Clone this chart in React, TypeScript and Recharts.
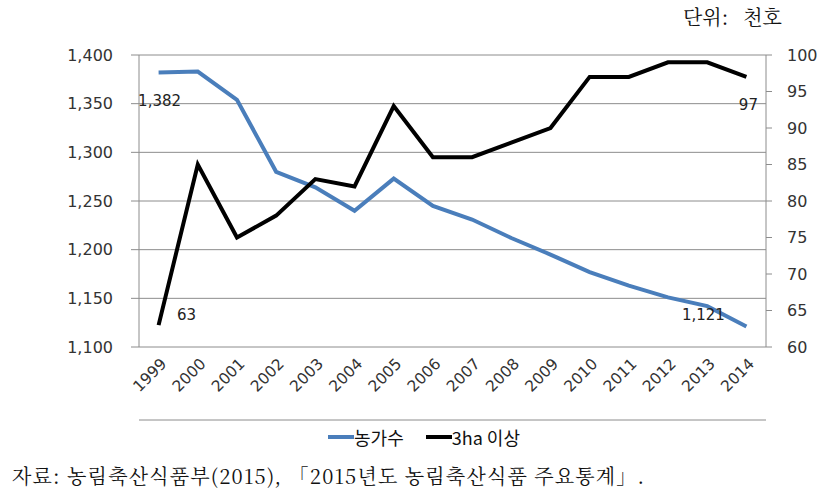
import React from "react";
import {
    LineChart,
    Line,
    XAxis,
    YAxis,
    CartesianGrid,
    Legend,
    LabelList,
} from "recharts";

const years = [
    "1999", "2000", "2001", "2002", "2003", "2004", "2005", "2006",
    "2007", "2008", "2009", "2010", "2011", "2012", "2013", "2014",
];
const farmHouseholds = [
    1382, 1383, 1354, 1280, 1264, 1240, 1273, 1245,
    1231, 1212, 1195, 1177, 1163, 1151, 1142, 1121,
];
const over3ha = [63, 85, 75, 78, 83, 82, 93, 86, 86, 88, 90, 97, 97, 99, 99, 97];
const leftTicks = [1100, 1150, 1200, 1250, 1300, 1350, 1400];
const rightTicks = [60, 65, 70, 75, 80, 85, 90, 95, 100];
const boundaryTicks = years.map((_, i) => i).concat(years.length);

const data = years.map((year, i) => ({
    year,
    pos: i + 0.5,
    farms: farmHouseholds[i],
    big: over3ha[i],
}));

const BLUE = "#4A7EBB";
const AXIS = "#8c8c8c";
const TICK_FONT = { fontFamily: "DejaVu Sans", fontSize: 16, fill: "#333" };
const LAST = years.length - 1;

const fmt = (v: number) => v.toLocaleString("en-US");

const YearTick = (props: any) => {
    const { x, y, payload } = props;
    return (
        <g transform={`translate(${x + 5},${y + 12})`}>
            <text
                transform="rotate(-45)"
                textAnchor="end"
                dy="0.35em"
                fontFamily="DejaVu Sans"
                fontSize={15.5}
                fill="#333"
            >
                {payload.value}
            </text>
        </g>
    );
};

// only the first and last points carry a label
const endLabel = (dxs: number[], dys: number[]) => (props: any) => {
    const { x, y, value, index } = props;
    if (index !== 0 && index !== LAST) return null;
    const k = index === 0 ? 0 : 1;
    return (
        <text
            x={x + dxs[k]}
            y={y + dys[k]}
            textAnchor="middle"
            dominantBaseline="central"
            fontFamily="DejaVu Sans"
            fontSize={15}
            fill="#222"
        >
            {fmt(value)}
        </text>
    );
};

const LegendBox = () => (
    <div
        style={{
            height: 20,
            display: "flex",
            justifyContent: "center",
            alignItems: "center",
            fontFamily: "Noto Sans CJK KR",
            fontSize: 18,
            color: "#111",
            paddingLeft: 10,
        }}
    >
        <span style={{ width: 26, height: 4, background: BLUE, display: "inline-block" }} />
        <span style={{ marginRight: 22 }}>농가수</span>
        <span style={{ width: 26, height: 4, background: "#000", display: "inline-block" }} />
        <span>3ha 이상</span>
    </div>
);

const App: React.FC = () => {
    return (
        <div
            style={{
                position: "absolute",
                left: 0,
                top: 0,
                width: 838,
                height: 497,
                background: "#fff",
            }}
        >
            <div
                style={{
                    position: "absolute",
                    left: 683,
                    top: 2,
                    fontFamily: "Noto Serif CJK KR, Noto Sans CJK KR",
                    fontSize: 20,
                    color: "#111",
                    wordSpacing: 10,
                }}
            >
                단위: 천호
            </div>
            <LineChart
                width={838}
                height={447}
                data={data}
                margin={{ top: 55, right: 0, left: 0, bottom: 0 }}
            >
                <CartesianGrid yAxisId="left" vertical={false} stroke={AXIS} />
                <XAxis
                    xAxisId="pos"
                    dataKey="pos"
                    type="number"
                    domain={[0, years.length]}
                    ticks={boundaryTicks}
                    tick={false}
                    tickSize={7}
                    height={7}
                    stroke={AXIS}
                />
                <XAxis
                    xAxisId="label"
                    dataKey="year"
                    scale="band"
                    interval={0}
                    axisLine={false}
                    tickLine={false}
                    tickSize={0}
                    height={73}
                    tick={<YearTick />}
                />
                <YAxis
                    yAxisId="left"
                    width={139}
                    domain={[1100, 1400]}
                    ticks={leftTicks}
                    tickFormatter={fmt}
                    tickSize={8}
                    tickMargin={18}
                    stroke={AXIS}
                    tick={TICK_FONT}
                />
                <YAxis
                    yAxisId="right"
                    orientation="right"
                    width={72}
                    domain={[60, 100]}
                    ticks={rightTicks}
                    tickSize={6}
                    tickMargin={15}
                    stroke={AXIS}
                    tick={{ ...TICK_FONT, textAnchor: "start" }}
                />
                <Legend verticalAlign="bottom" content={<LegendBox />} />
                <Line
                    xAxisId="pos"
                    yAxisId="left"
                    dataKey="farms"
                    name="농가수"
                    stroke={BLUE}
                    strokeWidth={4}
                    dot={false}
                    isAnimationActive={false}
                >
                    <LabelList dataKey="farms" content={endLabel([1, -43], [28, -12])} />
                </Line>
                <Line
                    xAxisId="pos"
                    yAxisId="right"
                    dataKey="big"
                    name="3ha 이상"
                    stroke="#000"
                    strokeWidth={4}
                    dot={false}
                    isAnimationActive={false}
                >
                    <LabelList dataKey="big" content={endLabel([28, 2], [-10, 28])} />
                </Line>
            </LineChart>
            <div
                style={{
                    position: "absolute",
                    left: 12,
                    top: 461,
                    fontFamily: "Noto Serif CJK KR, Noto Sans CJK KR",
                    fontSize: 20,
                    letterSpacing: 1.2,
                    color: "#111",
                    whiteSpace: "nowrap",
                }}
            >
                자료: 농림축산식품부(2015), 「2015년도 농림축산식품 주요통계」.
            </div>
        </div>
    );
};

export default App;
